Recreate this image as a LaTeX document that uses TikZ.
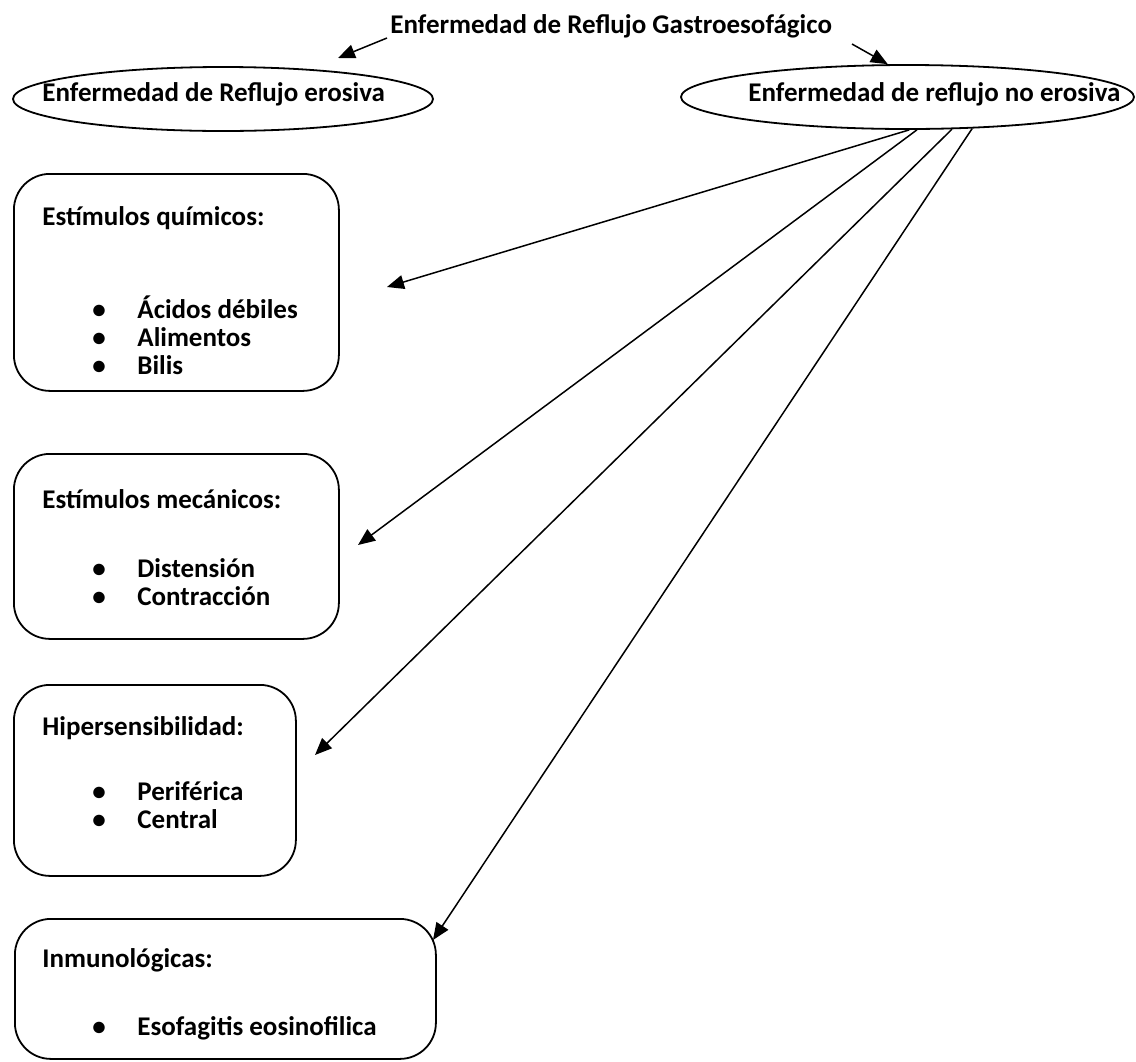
\documentclass[tikz,border=0pt]{standalone}
\usepackage{fontspec}
\setmainfont{Carlito}
\usetikzlibrary{arrows.meta,shapes.geometric}
\begin{document}
\begin{tikzpicture}[x=0.5pt,y=-0.5pt]

    \tikzset{
      txt/.style={
        font=\bfseries\fontsize{13.5}{16}\selectfont,
        inner sep=0pt,
        anchor=base west,
      },
      oval/.style={
        draw,
        ellipse,
        line width=0.9pt,
        inner sep=0pt,
        minimum height=32pt,
      },
      caja/.style={
        draw,
        line width=0.9pt,
        rounded corners=18pt,
        inner sep=0pt,
        anchor=north west,
      },
      flecha/.style={
        line width=0.75pt,
        -{Triangle[length=8.5pt,width=7pt]},
      },
    }
    \useasboundingbox (0,0) rectangle (1136,1061);

    \node[txt] (titulo) at (390,33) {Enfermedad de Reflujo Gastroesofágico};

    \node[oval,minimum width=210pt] (nerosiva) at (223,99) {};
    \node[txt] (nerosivatxt) at (42,101) {Enfermedad de Reflujo erosiva};
    \node[oval,minimum width=226.5pt] (nerd) at (907.5,97) {};
    \node[txt] (nerdtxt) at (748,101) {Enfermedad de reflujo no erosiva};

    \node[caja,minimum width=162.5pt,minimum height=108.5pt] (quim) at (13,173) {};
    \node[txt] (quimtit) at (42,225) {Estímulos químicos:};
    \node[txt] (quimb1) at (92,318) {\textbullet};
    \node[txt] (quim1) at (137,318) {Ácidos débiles};
    \node[txt] (quimb2) at (92,346) {\textbullet};
    \node[txt] (quim2) at (137,346) {Alimentos};
    \node[txt] (quimb3) at (92,374) {\textbullet};
    \node[txt] (quim3) at (137,374) {Bilis};

    \node[caja,minimum width=162.5pt,minimum height=92.5pt] (mec) at (13,453) {};
    \node[txt] (mectit) at (42,508) {Estímulos mecánicos:};
    \node[txt] (mecb1) at (92,577) {\textbullet};
    \node[txt] (mec1) at (137,577) {Distensión};
    \node[txt] (mecb2) at (92,605) {\textbullet};
    \node[txt] (mec2) at (137,605) {Contracción};

    \node[caja,minimum width=141pt,minimum height=95.5pt] (hiper) at (13,684) {};
    \node[txt] (hipertit) at (42,735) {Hipersensibilidad:};
    \node[txt] (hiperb1) at (92,800) {\textbullet};
    \node[txt] (hiper1) at (137,800) {Periférica};
    \node[txt] (hiperb2) at (92,828) {\textbullet};
    \node[txt] (hiper2) at (137,828) {Central};

    \node[caja,minimum width=210.5pt,minimum height=70pt] (inm) at (14,918) {};
    \node[txt] (inmtit) at (42,967) {Inmunológicas:};
    \node[txt] (inmb1) at (92,1035) {\textbullet};
    \node[txt] (inm1) at (137,1035) {Esofagitis eosinofilica};

    \coordinate (iz) at (387,38);
    \coordinate (izfin) at (338,58);
    \coordinate (de) at (852,44);
    \coordinate (quimfin) at (387,287);
    \coordinate (mecfin) at (358,545);
    \coordinate (hiperfin) at (315,755);
    \coordinate (inmfin) at (433,940);

    \draw[flecha] (iz) -- (izfin);
    \draw[flecha] (de) -- (nerd.121);
    \draw[flecha] (nerd.-87) -- (quimfin);
    \draw[flecha] (nerd.-74) -- (mecfin);
    \draw[flecha] (nerd.-36) -- (hiperfin);
    \draw[flecha] (nerd.-26) -- (inmfin);

\end{tikzpicture}
\end{document}
